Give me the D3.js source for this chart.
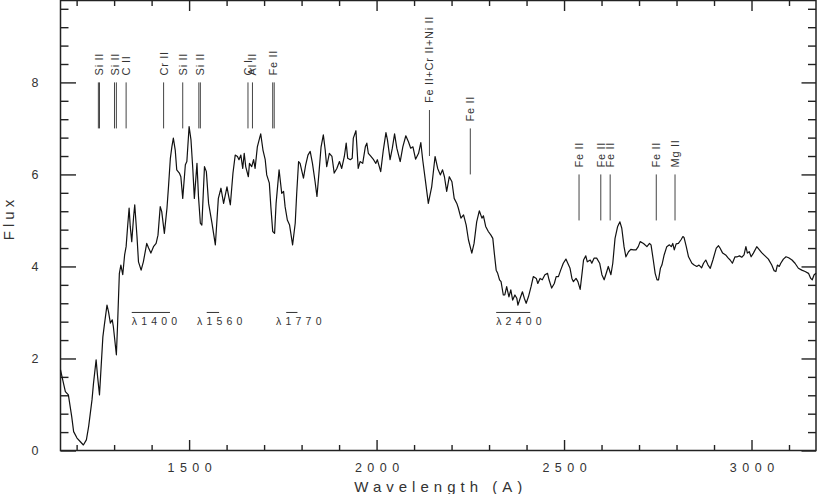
<!DOCTYPE html>
<html><head><meta charset="utf-8">
<script src="https://cdn.jsdelivr.net/npm/d3@7"></script>
<style>
html,body{margin:0;padding:0;background:#fff;}
svg text{font-family:"Liberation Sans",Arial,sans-serif;fill:#333;}
</style></head>
<body><svg id="c" width="817" height="494"></svg>
<script>
// ---- data ----
const wavelength = [1157,1165,1170,1178,1187,1192,1201,1210,1218,1226,1232,1241,1245,1252,1256,1261,1270,1274,1281,1285,1290,1295,1298,1306,1309,1314,1318,1323,1328,1332,1336,1340,1343,1347,1352,1355,1361,1365,1372,1378,1387,1392,1398,1405,1412,1417,1423,1427,1434,1441,1445,1450,1454,1458,1463,1467,1474,1478,1483,1490,1494,1500,1505,1510,1514,1521,1525,1530,1534,1541,1546,1552,1561,1570,1574,1578,1585,1592,1601,1605,1610,1617,1623,1629,1633,1638,1643,1647,1651,1658,1661,1667,1672,1676,1682,1688,
1691,1697,1703,1707,1714,1718,1723,1728,1732,1740,1747,1752,1756,1762,1768,1776,1783,1787,1792,1796,1805,1811,1817,1823,1829,1836,1841,1847,1852,1858,1863,1867,1874,1881,1887,1894,1901,1907,1914,1919,1923,1930,1935,1938,1945,1951,1956,1963,1970,1974,1978,1985,1992,1998,2002,2011,2018,2025,2029,2036,2042,2048,2054,2063,2070,2078,2085,2091,2097,2104,2112,2118,2123,2130,2138,2147,2156,2163,2170,2176,2181,
2187,2194,2201,2207,2214,2218,2225,2232,2239,2245,2254,2260,2267,2274,2281,2285,2291,2298,2305,2310,2314,2319,2323,2328,2332,2338,2342,2347,2353,2358,2363,2369,2374,2377,2383,2389,2394,2399,2405,2412,2418,2426,2430,2436,2442,2449,2456,2460,2467,2474,2479,2485,2491,2498,2505,2510,2516,2521,2525,2532,2537,2543,2548,2552,2558,2562,2570,2574,2580,2587,2595,2601,2607,2614,2618,2625,2630,2636,2643,2649,2654,2660,2665,2672,2678,2685,2692,2698,2703,
2712,2721,2728,2732,2738,2743,2748,2752,2757,2761,2767,2774,2781,2786,2790,2794,2799,2805,2812,2817,2820,2826,2832,2841,2847,2854,2860,2867,2872,2878,2884,2890,2897,2906,2912,2916,2923,2931,2938,2943,2949,2956,2962,2968,2974,2980,2985,2989,2994,2999,3005,3014,3020,3027,3036,3045,3054,3060,3065,3069,3074,3078,3085,3092,3099,3108,3116,3125,3134,3143,3152,3158,3162,3167,3172];
const flux = [1.75,1.46,1.28,1.21,0.73,0.41,0.27,0.19,0.12,0.23,0.52,1.10,1.46,1.97,1.60,1.21,2.47,2.73,3.16,3.02,2.77,2.84,2.69,2.08,2.69,3.85,4.03,3.82,4.25,4.43,4.87,5.27,4.87,4.54,5.08,5.34,4.65,4.10,3.92,4.10,4.50,4.40,4.29,4.43,4.50,4.68,5.30,5.19,4.72,5.27,5.73,6.35,6.60,6.79,6.53,6.10,6.03,5.95,5.48,6.21,6.28,7.04,6.75,6.10,5.48,6.24,5.52,4.94,4.90,6.17,6.06,5.37,4.94,4.47,4.97,5.48,5.70,5.37,5.73,5.55,5.34,6.03,6.42,6.39,6.32,6.42,6.13,6.46,6.17,5.95,6.24,6.17,6.32,6.13,6.60,6.79,
6.88,6.53,6.32,5.99,5.81,5.30,4.76,4.72,5.37,6.10,5.59,5.63,5.30,5.01,4.90,4.47,4.94,5.59,6.28,6.24,5.92,6.21,6.42,6.50,6.24,5.84,5.52,6.10,6.60,6.86,6.53,6.17,6.46,6.39,6.03,6.13,6.28,6.13,6.39,6.68,6.35,6.32,6.35,6.79,6.95,6.13,6.28,6.24,6.60,6.68,6.46,6.39,6.32,6.24,6.32,6.06,6.53,6.91,6.75,6.32,6.57,6.88,6.57,6.28,6.60,6.84,6.71,6.57,6.60,6.33,6.46,6.69,6.32,5.88,5.37,5.73,6.39,6.13,5.99,6.10,5.95,
5.63,5.95,5.84,5.48,5.37,5.27,5.05,5.12,4.90,4.58,4.29,4.50,4.97,5.21,5.05,5.10,4.87,4.76,4.68,4.61,4.29,3.92,3.85,3.71,3.67,3.38,3.38,3.56,3.34,3.49,3.27,3.38,3.31,3.16,3.31,3.45,3.31,3.20,3.34,3.56,3.78,3.74,3.63,3.74,3.71,3.82,3.85,3.71,3.53,3.63,3.78,3.78,3.92,4.07,4.16,4.07,3.96,3.74,3.67,3.74,3.67,3.50,3.85,4.14,4.23,4.10,4.14,4.07,4.18,4.18,4.07,3.82,3.71,3.89,4.00,3.82,4.07,4.61,4.87,4.97,4.83,4.43,4.21,4.32,4.37,4.36,4.36,4.43,4.54,
4.50,4.43,4.50,4.47,4.14,3.85,3.71,3.71,3.96,4.03,4.25,4.43,4.47,4.43,4.50,4.36,4.49,4.50,4.58,4.65,4.63,4.43,4.21,4.07,4.03,4.00,4.03,3.97,4.07,4.14,4.03,3.96,4.14,4.40,4.45,4.40,4.29,4.25,4.18,4.14,4.07,4.21,4.21,4.23,4.20,4.25,4.43,4.29,4.32,4.21,4.29,4.43,4.37,4.30,4.23,4.16,4.03,3.91,3.89,4.03,4.00,4.07,4.16,4.21,4.19,4.14,4.07,3.96,3.92,3.89,3.85,3.74,3.71,3.82,3.85];

// line identifications
const lineLabels = ["Si II","Si II","C II","Cr II","Si II","Si II","C I","Al II","Fe II","Fe II+Cr II+Ni II","Fe II","Fe II","Fe II","Fe II","Fe II","Mg II"];
const lineComponents = [[1258,1261],[1301,1306],[1332],[1432],[1483],[1526,1530],[1657],[1669],[1723,1727],[2141],[2250],[2540],[2598],[2623],[2746],[2796]];
const lineBase = [7,7,7,7,7,7,7,7,7,6.4,6,5,5,5,5,5];

// absorption-band labels
const bandLabels = ["λ1400","λ1560","λ1770","λ2400"];
const bandTextStart = [1347,1521,1732,2319];
const bandBarFrom = [1347,1547,1759,2319];
const bandBarTo = [1449,1580,1789,2410];
const bandLevel = 3.0;

const xTickLabels = [1500,2000,2500,3000];
const yTickLabels = [0,2,4,6,8];

// ---- chart ----
const svg = d3.select("#c");
const L = 60.5, R = 816, T = 0.5, B = 450.5;
const x = d3.scaleLinear().domain([1157,3172]).range([L,R]);
const y = d3.scaleLinear().domain([0,9.78]).range([B,T]);

const xMinor = d3.range(1200,3172,100).filter(v=>!xTickLabels.includes(v));
const yMinor = d3.range(0.4,9.7,0.4).filter(v=>!yTickLabels.some(t=>Math.abs(t-v)<1e-6));

function styleAxis(g){
  g.select(".domain").remove();
  g.selectAll(".tick line").attr("stroke","#222").attr("stroke-width",1.4);
}
// bottom
svg.append("g").attr("transform",`translate(0,${B})`)
  .call(d3.axisBottom(x).tickValues(xTickLabels).tickSize(-10.5).tickPadding(13).tickFormat(d3.format("d")))
  .call(styleAxis)
  .call(g=>g.selectAll("text").attr("font-size","12.5px").attr("letter-spacing","5.5px").attr("dx","2.75px").attr("fill","#333").style("font-family","'Liberation Sans',Arial,sans-serif"));
svg.append("g").attr("transform",`translate(0,${B})`)
  .call(d3.axisBottom(x).tickValues(xMinor).tickSize(-5.5).tickFormat(""))
  .call(styleAxis);
// top
svg.append("g").attr("transform",`translate(0,${T})`)
  .call(d3.axisTop(x).tickValues(xTickLabels).tickSize(-10.5).tickFormat(""))
  .call(styleAxis);
svg.append("g").attr("transform",`translate(0,${T})`)
  .call(d3.axisTop(x).tickValues(xMinor).tickSize(-5.5).tickFormat(""))
  .call(styleAxis);
// left
svg.append("g").attr("transform",`translate(${L},0)`)
  .call(d3.axisLeft(y).tickValues(yTickLabels).tickSize(-15.5).tickPadding(22).tickFormat(d3.format("d")))
  .call(styleAxis)
  .call(g=>g.selectAll("text").attr("font-size","12.5px").attr("fill","#333").style("font-family","'Liberation Sans',Arial,sans-serif"));
svg.append("g").attr("transform",`translate(${L},0)`)
  .call(d3.axisLeft(y).tickValues(yMinor).tickSize(-8).tickFormat(""))
  .call(styleAxis);
// right
svg.append("g").attr("transform",`translate(${R},0)`)
  .call(d3.axisRight(y).tickValues(yTickLabels).tickSize(-14.5).tickFormat(""))
  .call(styleAxis);
svg.append("g").attr("transform",`translate(${R},0)`)
  .call(d3.axisRight(y).tickValues(yMinor).tickSize(-8).tickFormat(""))
  .call(styleAxis);

// frame
svg.append("rect").attr("x",L).attr("y",T).attr("width",R-L).attr("height",B-T)
  .attr("fill","none").attr("stroke","#222").attr("stroke-width",1.5);

// spectrum
const pts = wavelength.map((w,i)=>[w,flux[i]]);
svg.append("path").datum(pts)
  .attr("fill","none").attr("stroke","#111").attr("stroke-width",1.2).attr("stroke-linejoin","round")
  .attr("d",d3.line().x(d=>x(d[0])).y(d=>y(d[1])));

// line markers
lineLabels.forEach((lab,i)=>{
  const comps = lineComponents[i];
  comps.forEach(w=>{
    svg.append("line").attr("x1",x(w)).attr("x2",x(w))
      .attr("y1",y(lineBase[i])).attr("y2",y(lineBase[i]+1))
      .attr("stroke","#444").attr("stroke-width",1);
  });
  const cx = d3.mean(comps, w=>x(w));
  const ty = y(lineBase[i]+1) - 7;
  svg.append("text").attr("transform",`translate(${cx},${ty}) rotate(-90)`)
    .attr("dy","0.36em").attr("font-size","11px").attr("letter-spacing","0.7px")
    .attr("text-anchor","start").text(lab);
});

// band labels
bandLabels.forEach((lab,i)=>{
  svg.append("line").attr("x1",x(bandBarFrom[i])).attr("x2",x(bandBarTo[i]))
    .attr("y1",y(bandLevel)).attr("y2",y(bandLevel)).attr("stroke","#333").attr("stroke-width",1);
  svg.append("text").attr("x",x(bandTextStart[i])).attr("y",y(bandLevel)+13)
    .attr("font-size","10.5px").attr("letter-spacing","4.2px").text(lab);
});

// axis titles
svg.append("text").attr("x",(L+R)/2+2.5).attr("y",491.5).attr("text-anchor","middle")
  .attr("font-size","15px").attr("letter-spacing","5px").text("Wavelength (A)");
svg.append("text").attr("transform",`translate(14,${220}) rotate(-90)`).attr("text-anchor","middle")
  .attr("dx","2px").attr("font-size","15px").attr("letter-spacing","4px").text("Flux");
</script></body></html>
